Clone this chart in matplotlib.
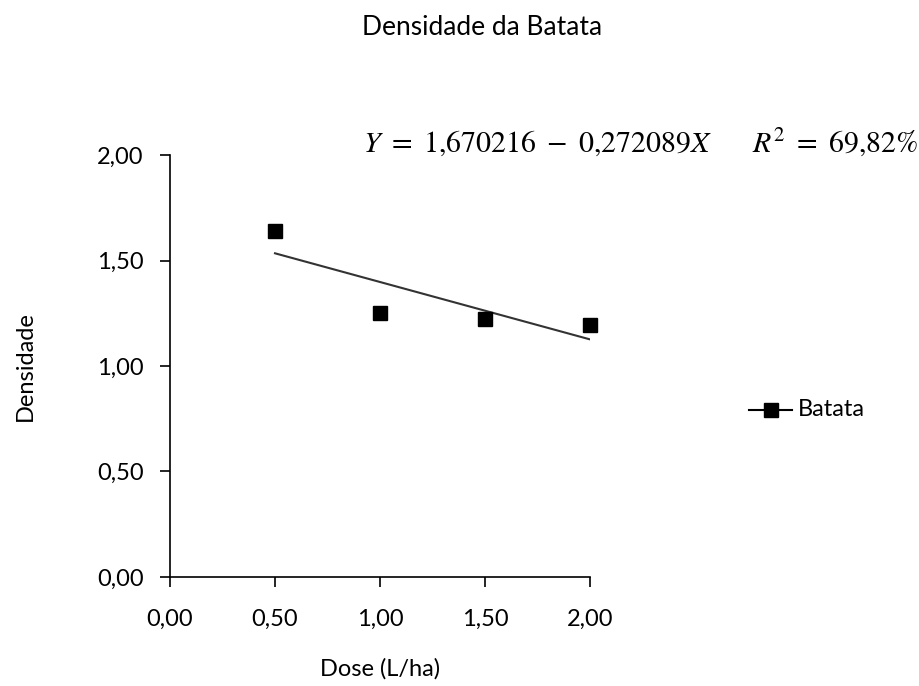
import matplotlib
matplotlib.use("Agg")
import matplotlib.pyplot as plt
import numpy as np
from matplotlib.ticker import FuncFormatter

plt.rcParams['font.family'] = ['Lato', 'DejaVu Sans']
plt.rcParams['mathtext.fontset'] = 'stix'

# data
dose = [0.5, 1.0, 1.5, 2.0]
densidade = [1.64, 1.25, 1.225, 1.195]
intercept = 1.670216
slope = -0.272089

fig = plt.figure(figsize=(9.19, 6.86), dpi=100)
ax = fig.add_axes([0.185, 0.159, 0.457, 0.615])

xs = np.array([dose[0], dose[-1]])
ax.plot(xs, intercept + slope * xs, color='#333333', lw=1.5, zorder=2)
ax.plot(dose, densidade, linestyle='none', marker='s', markersize=10,
        color='black', zorder=3, clip_on=False)

ax.set_xlim(0, 2)
ax.set_ylim(0, 2)
ticks = [0, 0.5, 1.0, 1.5, 2.0]
ax.set_xticks(ticks)
ax.set_yticks(ticks)
fmt = FuncFormatter(lambda v, p: ('%.2f' % v).replace('.', ','))
ax.xaxis.set_major_formatter(fmt)
ax.yaxis.set_major_formatter(fmt)
ax.tick_params(direction='out', length=7, width=1.2, labelsize=17,
               colors='black')
ax.tick_params(axis='y', pad=12)
ax.tick_params(axis='x', pad=16)
for s in ['top', 'right']:
    ax.spines[s].set_visible(False)
for s in ['left', 'bottom']:
    ax.spines[s].set_linewidth(1.2)

ax.set_xlabel('Dose (L/ha)', fontsize=17, labelpad=20)
ax.set_ylabel('Densidade', fontsize=17, labelpad=44)

fig.text(0.525, 0.96, 'Densidade da Batata', ha='center', va='center',
         fontsize=19)
fig.text(0.395, 0.793,
         r'$Y\ =\ 1{,}670216\ -\ 0{,}272089X\qquad R^2\ =\ 69{,}82\%$',
         ha='left', va='center', fontsize=21.5)

# legend
lx0, lx1, ly = 0.815, 0.862, 0.403
fig.add_artist(plt.Line2D([lx0, lx1], [ly, ly], transform=fig.transFigure,
                          color='black', lw=1.5))
fig.add_artist(plt.Line2D([(lx0 + lx1) / 2], [ly], transform=fig.transFigure,
                          color='black', marker='s', markersize=10,
                          linestyle='none'))
fig.text(0.868, ly, 'Batata', ha='left', va='center', fontsize=17)

fig.savefig('out.png', dpi=100, facecolor='white')
